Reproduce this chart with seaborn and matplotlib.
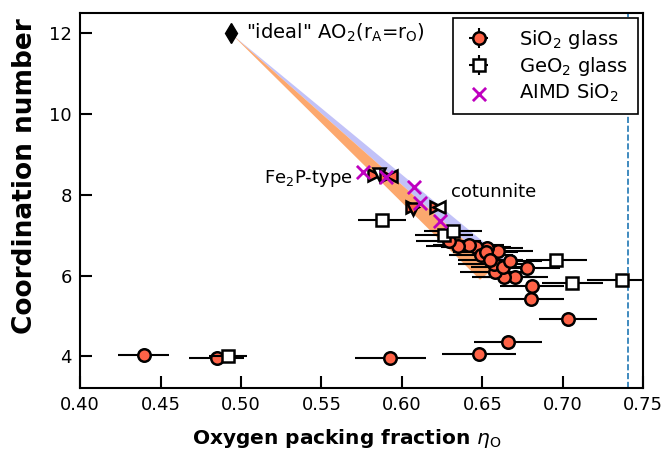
import numpy as np
import pandas as pd
import matplotlib
matplotlib.use("Agg")
import matplotlib.pyplot as plt
import seaborn as sns

sns.set_style("ticks")
plt.rcParams['font.family'] = ['DejaVu Sans']
plt.rcParams['mathtext.fontset'] = 'dejavusans'
plt.rcParams['text.color'] = 'black'
plt.rcParams['axes.labelcolor'] = 'black'
plt.rcParams['xtick.color'] = 'black'
plt.rcParams['ytick.color'] = 'black'

# SiO2 glass: packing fraction, coordination number, x error, y error
sio2_x = [0.4395, 0.4848, 0.5927, 0.648, 0.666, 0.703, 0.6805, 0.681, 0.678, 0.6705,
          0.6637, 0.658, 0.657, 0.663, 0.667, 0.6595, 0.653, 0.646, 0.6415, 0.635,
          0.629, 0.649, 0.652, 0.655]
sio2_y = [4.04, 3.95, 3.95, 4.05, 4.36, 4.93, 5.43, 5.74, 6.19, 5.96,
          5.97, 6.08, 6.30, 6.22, 6.37, 6.60, 6.69, 6.72, 6.77, 6.73,
          6.85, 6.52, 6.58, 6.40]
sio2_xerr = [0.016, 0.017, 0.022, 0.023, 0.021, 0.018, 0.020, 0.020, 0.020, 0.020,
             0.020, 0.022, 0.022, 0.020, 0.020, 0.022, 0.022, 0.022, 0.022, 0.020,
             0.020, 0.020, 0.020, 0.020]
sio2_yerr = [0.05, 0.05, 0.05, 0.1, 0.1, 0.05, 0.05, 0.1, 0.1, 0.1,
             0.1, 0.1, 0.1, 0.1, 0.1, 0.1, 0.1, 0.1, 0.1, 0.1,
             0.1, 0.1, 0.1, 0.1]

# GeO2 glass
geo2_x = [0.492, 0.5876, 0.626, 0.6315, 0.696, 0.706, 0.737]
geo2_y = [4.00, 7.39, 7.02, 7.10, 6.40, 5.82, 5.90]
geo2_xerr = [0.012, 0.015, 0.018, 0.018, 0.019, 0.019, 0.022]
geo2_yerr = [0.05, 0.1, 0.1, 0.1, 0.1, 0.1, 0.1]

# AIMD SiO2
aimd_x = [0.5757, 0.590, 0.6072, 0.611, 0.6238]
aimd_y = [8.57, 8.45, 8.20, 7.80, 7.35]

# crystalline phases (triangles)
cryst_x = [0.5825, 0.5855, 0.590, 0.5935, 0.606, 0.607, 0.621, 0.623]
cryst_y = [8.50, 8.52, 8.48, 8.48, 7.70, 7.66, 7.71, 7.71]
cryst_marker = ['>', 'v', '>', '<', '>', 'v', '>', '<']
cryst_fill = ['tomato', 'white', 'tomato', 'tomato', 'tomato', 'tomato', 'tomato', 'white']

# "ideal" AO2 point
ideal_x = [0.4937]
ideal_y = [12.0]

# model bands (vertices)
band_orange_x = [0.4937, 0.658, 0.6485]
band_orange_y = [12.0, 6.2, 5.9]
band_blue_x = [0.4937, 0.670, 0.658]
band_blue_y = [12.0, 6.2, 6.2]

close_packing = 0.7405

fig, ax = plt.subplots(figsize=(6.68, 4.58), dpi=100)
fig.subplots_adjust(left=0.12, right=0.963, bottom=0.153, top=0.971)

ax.fill(band_blue_x, band_blue_y, color='#c2c2f8', lw=0, zorder=1)
ax.fill(band_orange_x, band_orange_y, color='#fca86e', lw=0, zorder=1.1)

ax.axvline(close_packing, ls='--', color='C0', lw=1.2, zorder=1)

ax.plot(ideal_x, ideal_y, 'kd', ms=10, zorder=5)

h_sio2 = ax.errorbar(sio2_x, sio2_y, xerr=sio2_xerr, yerr=sio2_yerr, fmt='o',
                     mfc='tomato', mec='k', mew=1.8, ms=9, ecolor='k',
                     elinewidth=1.5, capsize=0, zorder=3, label='SiO$_2$ glass')
h_geo2 = ax.errorbar(geo2_x, geo2_y, xerr=geo2_xerr, yerr=geo2_yerr, fmt='s',
                     mfc='white', mec='k', mew=1.8, ms=9, ecolor='k',
                     elinewidth=1.5, capsize=0, zorder=4, label='GeO$_2$ glass')

for xx, yy, mk, fc in zip(cryst_x, cryst_y, cryst_marker, cryst_fill):
    ax.plot(xx, yy, marker=mk, mfc=fc, mec='k', mew=1.8, ms=9, ls='none', zorder=4)

aimd_df = pd.DataFrame({'x': aimd_x, 'y': aimd_y})
sns.scatterplot(data=aimd_df, x='x', y='y', marker='x', color='m', s=90,
                linewidth=2, ax=ax, zorder=6, label='AIMD SiO$_2$')

ax.text(0.503, 12.02, '"ideal" AO$_2$(r$_\\mathrm{A}$=r$_\\mathrm{O}$)', fontsize=14,
        va='center', ha='left')
ax.text(0.5695, 8.40, 'Fe$_2$P-type', fontsize=13, va='center', ha='right')
ax.text(0.6305, 8.08, 'cotunnite', fontsize=13, va='center', ha='left')

ax.set_xlim(0.40, 0.75)
ax.set_ylim(3.22, 12.5)
ax.set_xticks(np.arange(0.40, 0.751, 0.05))
ax.set_xticklabels([f'{v:.2f}' for v in np.arange(0.40, 0.751, 0.05)])
ax.set_yticks([4, 6, 8, 10, 12])
ax.tick_params(direction='in', length=8.5, width=1.5, labelsize=13, pad=6)
for sp in ax.spines.values():
    sp.set_linewidth(1.5)
    sp.set_color('k')

ax.set_xlabel('Oxygen packing fraction $\\eta_\\mathrm{O}$', fontsize=14.5,
              fontweight='bold')
ax.set_ylabel('Coordination number', fontsize=19, fontweight='bold')
ax.xaxis.set_label_coords(0.474, -0.105)
ax.yaxis.set_label_coords(-0.075, 0.565)

leg = ax.legend(handles=[h_sio2, h_geo2, ax.collections[-1]],
                labels=['SiO$_2$ glass', 'GeO$_2$ glass', 'AIMD SiO$_2$'],
                loc='upper right', fontsize=14, fancybox=False, framealpha=1,
                edgecolor='k', borderaxespad=0.25, handlelength=1.6,
                handletextpad=1.3, borderpad=0.5, labelspacing=0.2)
leg.get_frame().set_linewidth(1.2)

plt.savefig('out.png', dpi=100)
